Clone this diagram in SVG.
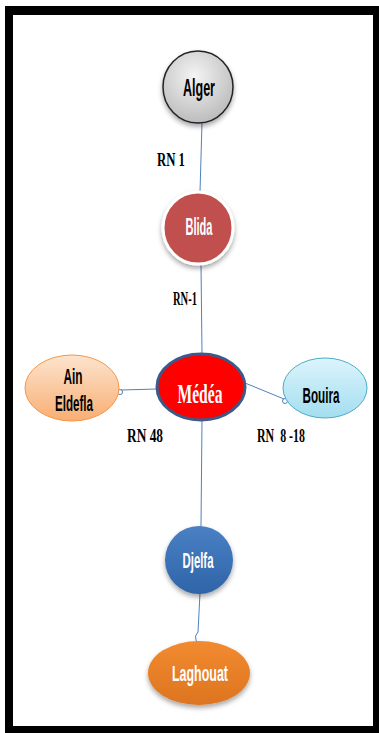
<svg xmlns="http://www.w3.org/2000/svg" width="379" height="733" viewBox="0 0 379 733">
<defs>
<filter id="sh" x="-30%" y="-30%" width="160%" height="170%">
<feDropShadow dx="0" dy="3" stdDeviation="2.5" flood-color="#000" flood-opacity="0.35"/>
</filter>
<radialGradient id="gAlger" cx="45%" cy="35%" r="70%">
<stop offset="0" stop-color="#f4f4f4"/><stop offset="1" stop-color="#b8b8b8"/>
</radialGradient>
<linearGradient id="gAin" x1="0" y1="0" x2="0" y2="1">
<stop offset="0" stop-color="#fde4cf"/><stop offset="1" stop-color="#f8ae73"/>
</linearGradient>
<linearGradient id="gBouira" x1="0" y1="0" x2="0" y2="1">
<stop offset="0" stop-color="#dcf4fb"/><stop offset="1" stop-color="#a3def0"/>
</linearGradient>
<linearGradient id="gDjelfa" x1="0" y1="0" x2="0" y2="1">
<stop offset="0" stop-color="#4a80c4"/><stop offset="1" stop-color="#2f64a8"/>
</linearGradient>
<linearGradient id="gLag" x1="0" y1="0" x2="0" y2="1">
<stop offset="0" stop-color="#f28b30"/><stop offset="1" stop-color="#dd7420"/>
</linearGradient>
</defs>
<style>
.cal{font-family:"Liberation Sans","DejaVu Sans",sans-serif;font-weight:bold;text-anchor:middle}
.rn{font-family:"Liberation Serif","DejaVu Serif",serif;font-weight:bold;fill:#000;white-space:pre}
.ln{fill:none;stroke:#4f81bd;stroke-width:1}
</style>
<rect x="5" y="6" width="374" height="727" fill="#000"/>
<rect x="13" y="15" width="360" height="711" fill="#fff"/>
<g id="connectors">
<path class="ln" d="M202 123 L200 192"/>
<path class="ln" d="M201 265 L202 353"/>
<path class="ln" d="M157 389 L121 390"/>
<circle class="ln" cx="120" cy="392" r="2.5"/>
<path class="ln" d="M245 383 L284 399"/>
<circle class="ln" cx="285" cy="401" r="2.5"/>
<path class="ln" d="M202 420 L201 527"/>
<path class="ln" d="M200 593 L198 632 Q194 636 196 640 L197 643"/>
</g>
<g id="labels">
<text class="rn" x="157" y="166" font-size="19" textLength="28" lengthAdjust="spacingAndGlyphs">RN 1</text>
<text class="rn" x="173" y="305" font-size="19" textLength="24" lengthAdjust="spacingAndGlyphs">RN-1</text>
<text class="rn" x="127" y="442" font-size="19" textLength="36" lengthAdjust="spacingAndGlyphs">RN 48</text>
<text class="rn" x="257" y="442" font-size="19" textLength="48" lengthAdjust="spacingAndGlyphs" xml:space="preserve">RN  8 -18</text>
</g>
<g id="alger">
<ellipse cx="198" cy="87" rx="35" ry="36" fill="url(#gAlger)" stroke="#222" stroke-width="1.5" filter="url(#sh)"/>
<text class="cal" x="199" y="96" font-size="24" fill="#000" textLength="32" lengthAdjust="spacingAndGlyphs">Alger</text>
</g>
<g id="blida">
<ellipse cx="198" cy="228" rx="35" ry="36" fill="#c0504d" stroke="#fff" stroke-width="3" filter="url(#sh)"/>
<text class="cal" x="199" y="235" font-size="23" fill="#fff" textLength="27" lengthAdjust="spacingAndGlyphs">Blida</text>
</g>
<g id="medea">
<ellipse cx="201" cy="387" rx="44" ry="33" fill="#ff0000" stroke="#3b5a8a" stroke-width="3"/>
<text x="200" y="403" font-family="Liberation Serif, serif" font-weight="bold" font-size="27" fill="#fff" text-anchor="middle" textLength="45" lengthAdjust="spacingAndGlyphs">Médéa</text>
</g>
<g id="ain-eldefla">
<ellipse cx="72" cy="388" rx="47" ry="33" fill="url(#gAin)" stroke="#f79646" stroke-width="1"/>
<text class="cal" x="73" y="384" font-size="22" fill="#000" textLength="19" lengthAdjust="spacingAndGlyphs">Ain</text>
<text class="cal" x="74" y="411" font-size="22" fill="#000" textLength="38" lengthAdjust="spacingAndGlyphs">Eldefla</text>
</g>
<g id="bouira">
<ellipse cx="325" cy="388" rx="42" ry="30" fill="url(#gBouira)" stroke="#4bacc6" stroke-width="1"/>
<text class="cal" x="321" y="403" font-size="22" fill="#000" textLength="37" lengthAdjust="spacingAndGlyphs">Bouira</text>
</g>
<g id="djelfa">
<ellipse cx="199" cy="560" rx="34" ry="34" fill="url(#gDjelfa)" filter="url(#sh)"/>
<text class="cal" x="198" y="568" font-size="22" fill="#fff" textLength="31" lengthAdjust="spacingAndGlyphs">Djelfa</text>
</g>
<g id="laghouat">
<ellipse cx="199" cy="673" rx="51" ry="32" fill="url(#gLag)" filter="url(#sh)"/>
<text class="cal" x="200" y="681" font-size="22" fill="#fff" textLength="56" lengthAdjust="spacingAndGlyphs">Laghouat</text>
</g>
</svg>
